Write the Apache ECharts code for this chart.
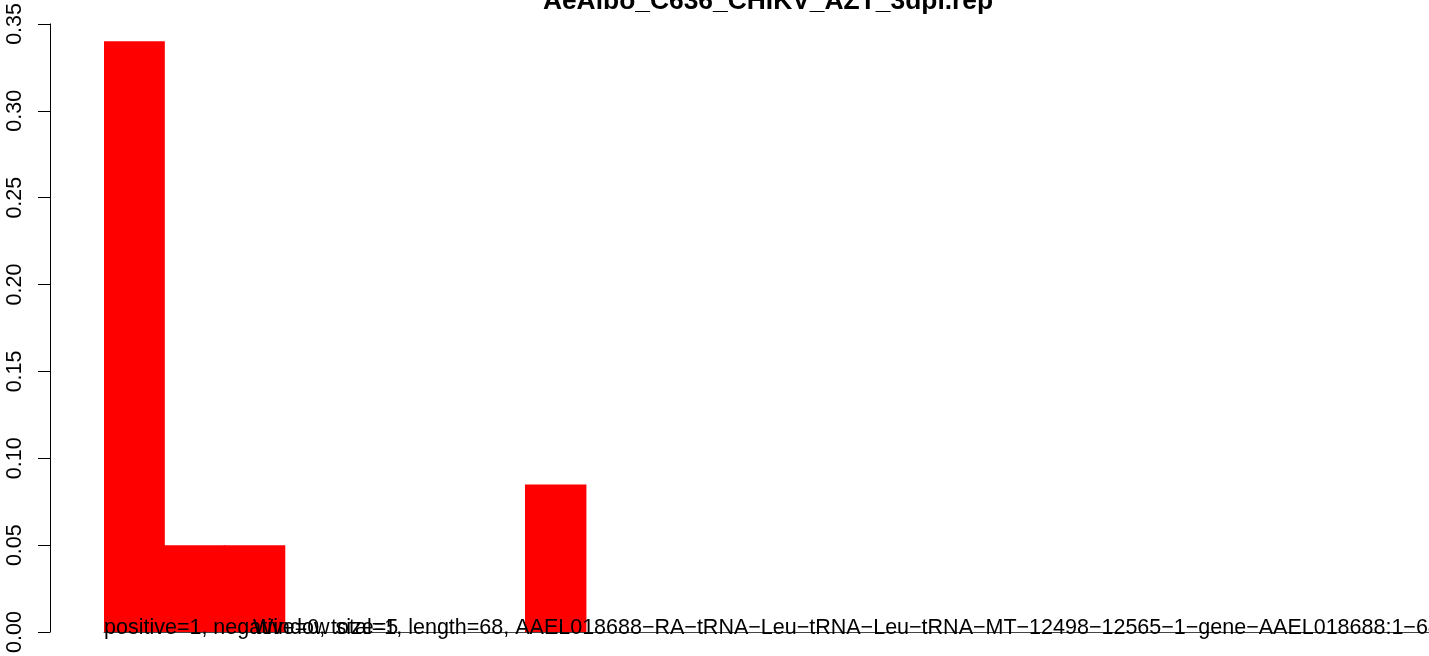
<!DOCTYPE html>
<html>
<head>
<meta charset="utf-8">
<script src="https://cdn.jsdelivr.net/npm/echarts@6/dist/echarts.min.js"></script>
<style>
  html, body { margin: 0; padding: 0; background: #fff; }
  #chart { width: 1429px; height: 656px; }
</style>
</head>
<body>
<div id="chart"></div>
<script>
// 窗口编号（每个窗口5个位置）
const windows = ['1', '2', '3', '4', '5', '6', '7', '8', '9', '10', '11',
  '12', '13', '14', '15', '16', '17', '18', '19', '20', '21', '22']
// 每个窗口的比例
const ratios = [0.34, 0.05, 0.05, 0, 0, 0, 0, 0.085, 0, 0, 0,
  0, 0, 0, 0, 0, 0, 0, 0, 0, 0, 0]
// y轴刻度
const yTicks = [0, 0.05, 0.10, 0.15, 0.20, 0.25, 0.30, 0.35]

const titleText = 'AeAlbo_C636_CHIKV_AZT_3dpi.rep'
const infoText = 'positive=1, negative=0, total=1, length=68, AAEL018688\u2212RA\u2212tRNA\u2212Leu\u2212tRNA\u2212Leu\u2212tRNA\u2212MT\u221212498\u221212565\u22121\u2212gene\u2212AAEL018688:1\u221268'
const windowText = 'Window size=5'

const font = '"Liberation Sans", Arial, Helvetica, sans-serif'

const myChart = echarts.init(document.querySelector('#chart'))
const option = {
  animation: false,
  backgroundColor: '#fff',
  grid: {
    left: 104,
    right: -4,
    top: 20,
    bottom: 22
  },
  xAxis: {
    type: 'category',
    data: windows,
    boundaryGap: true,
    axisLine: { show: true, lineStyle: { color: '#444', width: 1 } },
    axisTick: { show: false },
    axisLabel: { show: false },
    splitLine: { show: false }
  },
  yAxis: {
    type: 'value',
    min: yTicks[0],
    max: yTicks[yTicks.length - 1],
    interval: 0.05,
    offset: 54,
    axisLine: { show: true, lineStyle: { color: '#000', width: 1 } },
    axisTick: { show: true, length: 12, lineStyle: { color: '#000', width: 1 } },
    axisLabel: {
      rotate: 90,
      margin: 24,
      color: '#000',
      fontSize: 21.5,
      fontFamily: font,
      formatter: v => v.toFixed(2)
    },
    splitLine: { show: false }
  },
  series: [
    {
      type: 'bar',
      data: ratios,
      // 稍微加宽，去掉相邻柱子之间的缝
      barWidth: '102%',
      itemStyle: { color: '#ff0000' }
    }
  ],
  graphic: [
    {
      type: 'text',
      x: 768,
      y: 1.5,
      style: {
        text: titleText,
        fill: '#000',
        font: 'bold 26.4px ' + font,
        align: 'center',
        verticalAlign: 'middle'
      }
    },
    {
      type: 'text',
      x: 104,
      y: 628,
      z: 10,
      style: {
        text: infoText,
        fill: '#000',
        font: '21.5px ' + font,
        align: 'left',
        verticalAlign: 'middle'
      }
    },
    {
      type: 'text',
      x: 253,
      y: 628,
      z: 10,
      style: {
        text: windowText,
        fill: '#000',
        font: '21.5px ' + font,
        align: 'left',
        verticalAlign: 'middle'
      }
    }
  ]
}
myChart.setOption(option)
</script>
</body>
</html>
